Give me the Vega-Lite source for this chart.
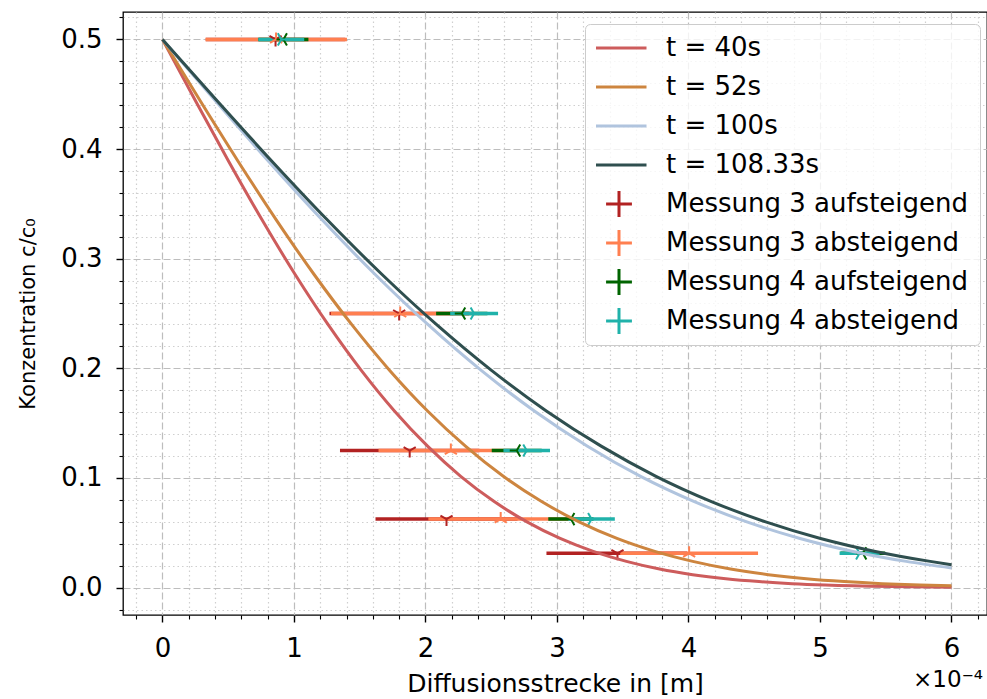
{
  "$schema": "https://vega.github.io/schema/vega-lite/v6.json",
  "width": 864,
  "height": 603,
  "autosize": {"type": "none"},
  "padding": {"left": 123, "top": 12, "right": 0, "bottom": 84},
  "background": "white",
  "config": {
    "font": "DejaVu Sans",
    "view": {"stroke": "black", "strokeWidth": 1.3},
    "axis": {"labelFont": "DejaVu Sans", "titleFont": "DejaVu Sans", "labelColor": "black", "titleColor": "black", "titleFontWeight": "normal", "tickColor": "black", "domain": false, "labelOverlap": false, "labelFlush": false, "tickCount": 200}
  },
  "title": {"text": "×10⁻⁴", "orient": "bottom", "anchor": "end", "fontSize": 23, "fontWeight": "normal", "font": "DejaVu Sans", "color": "black", "dy": -27, "dx": -4, "offset": 0},
  "datasets": {
    "curves": [
      {"s": "t = 40s", "x": 0, "y": 0.5}, {"s": "t = 40s", "x": 0.252, "y": 0.4438}, {"s": "t = 40s", "x": 0.504, "y": 0.3887}, {"s": "t = 40s", "x": 0.756, "y": 0.3357}, {"s": "t = 40s", "x": 1.008, "y": 0.2858}, {"s": "t = 40s", "x": 1.26, "y": 0.2398}, {"s": "t = 40s", "x": 1.512, "y": 0.1981}, {"s": "t = 40s", "x": 1.764, "y": 0.1611}, {"s": "t = 40s", "x": 2.016, "y": 0.129}, {"s": "t = 40s", "x": 2.268, "y": 0.1015}, {"s": "t = 40s", "x": 2.52, "y": 0.0787}, {"s": "t = 40s", "x": 2.772, "y": 0.0599}, {"s": "t = 40s", "x": 3.024, "y": 0.0448}, {"s": "t = 40s", "x": 3.276, "y": 0.033}, {"s": "t = 40s", "x": 3.528, "y": 0.0239}, {"s": "t = 40s", "x": 3.78, "y": 0.0169}, {"s": "t = 40s", "x": 4.032, "y": 0.0118}, {"s": "t = 40s", "x": 4.284, "y": 0.0081}, {"s": "t = 40s", "x": 4.536, "y": 0.0055}, {"s": "t = 40s", "x": 4.788, "y": 0.0036}, {"s": "t = 40s", "x": 5.04, "y": 0.0023}, {"s": "t = 40s", "x": 5.544, "y": 0.0009}, {"s": "t = 40s", "x": 6.0, "y": 0.0004},
      {"s": "t = 52s", "x": 0, "y": 0.5}, {"s": "t = 52s", "x": 0.288, "y": 0.4438}, {"s": "t = 52s", "x": 0.576, "y": 0.3887}, {"s": "t = 52s", "x": 0.864, "y": 0.3357}, {"s": "t = 52s", "x": 1.152, "y": 0.2858}, {"s": "t = 52s", "x": 1.44, "y": 0.2398}, {"s": "t = 52s", "x": 1.728, "y": 0.1981}, {"s": "t = 52s", "x": 2.016, "y": 0.1611}, {"s": "t = 52s", "x": 2.304, "y": 0.129}, {"s": "t = 52s", "x": 2.592, "y": 0.1015}, {"s": "t = 52s", "x": 2.88, "y": 0.0787}, {"s": "t = 52s", "x": 3.168, "y": 0.0599}, {"s": "t = 52s", "x": 3.456, "y": 0.0448}, {"s": "t = 52s", "x": 3.744, "y": 0.033}, {"s": "t = 52s", "x": 4.032, "y": 0.0239}, {"s": "t = 52s", "x": 4.32, "y": 0.0169}, {"s": "t = 52s", "x": 4.608, "y": 0.0118}, {"s": "t = 52s", "x": 4.896, "y": 0.0081}, {"s": "t = 52s", "x": 5.184, "y": 0.0055}, {"s": "t = 52s", "x": 5.472, "y": 0.0036}, {"s": "t = 52s", "x": 5.76, "y": 0.0023}, {"s": "t = 52s", "x": 6.0, "y": 0.0017},
      {"s": "t = 100s", "x": 0, "y": 0.5}, {"s": "t = 100s", "x": 0.404, "y": 0.4438}, {"s": "t = 100s", "x": 0.808, "y": 0.3887}, {"s": "t = 100s", "x": 1.212, "y": 0.3357}, {"s": "t = 100s", "x": 1.616, "y": 0.2858}, {"s": "t = 100s", "x": 2.02, "y": 0.2398}, {"s": "t = 100s", "x": 2.424, "y": 0.1981}, {"s": "t = 100s", "x": 2.828, "y": 0.1611}, {"s": "t = 100s", "x": 3.232, "y": 0.129}, {"s": "t = 100s", "x": 3.636, "y": 0.1015}, {"s": "t = 100s", "x": 4.04, "y": 0.0787}, {"s": "t = 100s", "x": 4.444, "y": 0.0599}, {"s": "t = 100s", "x": 4.848, "y": 0.0448}, {"s": "t = 100s", "x": 5.252, "y": 0.033}, {"s": "t = 100s", "x": 5.656, "y": 0.0239}, {"s": "t = 100s", "x": 6.0, "y": 0.0179},
      {"s": "t = 108.33s", "x": 0, "y": 0.5}, {"s": "t = 108.33s", "x": 0.417, "y": 0.4438}, {"s": "t = 108.33s", "x": 0.834, "y": 0.3887}, {"s": "t = 108.33s", "x": 1.251, "y": 0.3357}, {"s": "t = 108.33s", "x": 1.668, "y": 0.2858}, {"s": "t = 108.33s", "x": 2.085, "y": 0.2398}, {"s": "t = 108.33s", "x": 2.502, "y": 0.1981}, {"s": "t = 108.33s", "x": 2.919, "y": 0.1611}, {"s": "t = 108.33s", "x": 3.336, "y": 0.129}, {"s": "t = 108.33s", "x": 3.753, "y": 0.1015}, {"s": "t = 108.33s", "x": 4.17, "y": 0.0787}, {"s": "t = 108.33s", "x": 4.587, "y": 0.0599}, {"s": "t = 108.33s", "x": 5.004, "y": 0.0448}, {"s": "t = 108.33s", "x": 5.421, "y": 0.033}, {"s": "t = 108.33s", "x": 5.838, "y": 0.0239}, {"s": "t = 108.33s", "x": 6.0, "y": 0.0209}
    ],
    "meas": [
      {"s": "Messung 3 aufsteigend", "y": 0.5, "x": 0.86, "lo": 0.33, "hi": 1.39},
      {"s": "Messung 3 aufsteigend", "y": 0.25, "x": 1.8, "lo": 1.27, "hi": 2.33},
      {"s": "Messung 3 aufsteigend", "y": 0.125, "x": 1.88, "lo": 1.35, "hi": 2.41},
      {"s": "Messung 3 aufsteigend", "y": 0.0625, "x": 2.16, "lo": 1.62, "hi": 2.7},
      {"s": "Messung 3 aufsteigend", "y": 0.03125, "x": 3.46, "lo": 2.92, "hi": 3.99},
      {"s": "Messung 3 absteigend", "y": 0.5, "x": 0.864, "lo": 0.327, "hi": 1.403},
      {"s": "Messung 3 absteigend", "y": 0.25, "x": 1.808, "lo": 1.281, "hi": 2.335},
      {"s": "Messung 3 absteigend", "y": 0.125, "x": 2.193, "lo": 1.643, "hi": 2.743},
      {"s": "Messung 3 absteigend", "y": 0.0625, "x": 2.572, "lo": 2.022, "hi": 3.122},
      {"s": "Messung 3 absteigend", "y": 0.03125, "x": 4.005, "lo": 3.481, "hi": 4.529},
      {"s": "Messung 4 aufsteigend", "y": 0.5, "x": 0.92, "lo": 0.73, "hi": 1.11},
      {"s": "Messung 4 aufsteigend", "y": 0.25, "x": 2.276, "lo": 2.081, "hi": 2.471},
      {"s": "Messung 4 aufsteigend", "y": 0.125, "x": 2.694, "lo": 2.504, "hi": 2.884},
      {"s": "Messung 4 aufsteigend", "y": 0.0625, "x": 3.106, "lo": 2.934, "hi": 3.278},
      {"s": "Messung 4 aufsteigend", "y": 0.03125, "x": 5.326, "lo": 5.156, "hi": 5.496},
      {"s": "Messung 4 absteigend", "y": 0.5, "x": 0.904, "lo": 0.729, "hi": 1.078},
      {"s": "Messung 4 absteigend", "y": 0.25, "x": 2.37, "lo": 2.188, "hi": 2.552},
      {"s": "Messung 4 absteigend", "y": 0.125, "x": 2.77, "lo": 2.593, "hi": 2.947},
      {"s": "Messung 4 absteigend", "y": 0.0625, "x": 3.263, "lo": 3.086, "hi": 3.44},
      {"s": "Messung 4 absteigend", "y": 0.03125, "x": 5.301, "lo": 5.149, "hi": 5.453}
    ]
  },
  "layer": [
    {
      "data": {"name": "meas"},
      "mark": {"type": "rule", "strokeWidth": 3.5},
      "encoding": {
        "x": {
          "field": "lo", "type": "quantitative",
          "scale": {"domain": [-0.3, 6.27], "nice": false, "zero": false},
          "axis": {
            "title": "Diffusionsstrecke in [m]", "titleFontSize": 25, "titlePadding": 10,
            "values": [-0.2, 0, 0.2, 0.4, 0.6, 0.8, 1, 1.2, 1.4, 1.6, 1.8, 2, 2.2, 2.4, 2.6, 2.8, 3, 3.2, 3.4, 3.6, 3.8, 4, 4.2, 4.4, 4.6, 4.8, 5, 5.2, 5.4, 5.6, 5.8, 6, 6.2],
            "tickCount": 200,
            "labelExpr": "indexof([0,1,2,3,4,5,6], datum.value) >= 0 ? format(datum.value, 'd') : ''",
            "labelFontSize": 26, "labelPadding": 13, "labelOverlap": false,
            "grid": true,
            "gridDash": {"condition": {"test": "indexof([0,1,2,3,4,5,6], datum.value) >= 0", "value": [7, 3]}, "value": [1.5, 3]},
            "gridColor": {"condition": {"test": "indexof([0,1,2,3,4,5,6], datum.value) >= 0", "value": "#bdbdbd"}, "value": "#cfcfcf"},
            "gridWidth": 1.2,
            "tickSize": {"condition": {"test": "indexof([0,1,2,3,4,5,6], datum.value) >= 0", "value": 7}, "value": 4},
            "tickWidth": {"condition": {"test": "indexof([0,1,2,3,4,5,6], datum.value) >= 0", "value": 1.4}, "value": 1.1}
          }
        },
        "x2": {"field": "hi"},
        "y": {
          "field": "y", "type": "quantitative",
          "scale": {"domain": [-0.025, 0.525], "nice": false, "zero": false},
          "axis": {
            "title": "Konzentration c/c₀", "titleFontSize": 21, "titlePadding": 22,
            "values": [-0.02, 0, 0.02, 0.04, 0.06, 0.08, 0.1, 0.12, 0.14, 0.16, 0.18, 0.2, 0.22, 0.24, 0.26, 0.28, 0.3, 0.32, 0.34, 0.36, 0.38, 0.4, 0.42, 0.44, 0.46, 0.48, 0.5, 0.52],
            "tickCount": 200,
            "labelExpr": "indexof([0,0.1,0.2,0.3,0.4,0.5], datum.value) >= 0 ? format(datum.value, '.1f') : ''",
            "labelFontSize": 26, "labelPadding": 14, "labelOverlap": false,
            "grid": true,
            "gridDash": {"condition": {"test": "indexof([0,0.1,0.2,0.3,0.4,0.5], datum.value) >= 0", "value": [7, 3]}, "value": [1.5, 3]},
            "gridColor": {"condition": {"test": "indexof([0,0.1,0.2,0.3,0.4,0.5], datum.value) >= 0", "value": "#bdbdbd"}, "value": "#cfcfcf"},
            "gridWidth": 1.2,
            "tickSize": {"condition": {"test": "indexof([0,0.1,0.2,0.3,0.4,0.5], datum.value) >= 0", "value": 7}, "value": 4},
            "tickWidth": {"condition": {"test": "indexof([0,0.1,0.2,0.3,0.4,0.5], datum.value) >= 0", "value": 1.4}, "value": 1.1}
          }
        },
        "color": {
          "field": "s", "type": "nominal",
          "scale": {
            "domain": ["t = 40s", "t = 52s", "t = 100s", "t = 108.33s", "Messung 3 aufsteigend", "Messung 3 absteigend", "Messung 4 aufsteigend", "Messung 4 absteigend"],
            "range": ["#cd5c5c", "#cd853f", "#b0c4de", "#2f4f4f", "#b22222", "#ff7f50", "#006400", "#20b2aa"]
          },
          "legend": {
            "orient": "none", "legendX": 462, "legendY": 12, "title": null, "direction": "vertical",
            "fillColor": "rgba(255,255,255,0.8)", "strokeColor": "#cccccc", "cornerRadius": 5, "padding": 11,
            "labelFont": "DejaVu Sans", "labelFontSize": 26, "labelColor": "black", "labelLimit": 500,
            "symbolSize": 3025, "clipHeight": 26, "rowPadding": 13, "labelOffset": 18, "symbolOffset": -6, "symbolStrokeWidth": 3,
            "encode": {
              "symbols": {
                "update": {
                  "shape": {"signal": "indexof(datum.label, 'Messung') === 0 ? 'M-0.47,0L0.47,0M0,-0.47L0,0.47' : 'stroke'"},
                  "stroke": {"signal": "scale('color', datum.value)"},
                  "fill": {"value": "transparent"},
                  "strokeWidth": {"value": 3},
                  "opacity": {"value": 1}
                }
              }
            }
          }
        }
      }
    },
    {
      "data": {"name": "meas"},
      "transform": [{"filter": "datum.s === 'Messung 3 aufsteigend'"}],
      "mark": {"type": "point", "filled": false, "strokeWidth": 2, "size": 196, "opacity": 1, "shape": "M0,0L0,1M0,0L-0.866,-0.5M0,0L0.866,-0.5"},
      "encoding": {"x": {"field": "x", "type": "quantitative"}, "y": {"field": "y", "type": "quantitative"}, "color": {"field": "s", "type": "nominal"}}
    },
    {
      "data": {"name": "meas"},
      "transform": [{"filter": "datum.s === 'Messung 3 absteigend'"}],
      "mark": {"type": "point", "filled": false, "strokeWidth": 2, "size": 196, "opacity": 1, "shape": "M0,0L0,-1M0,0L-0.866,0.5M0,0L0.866,0.5"},
      "encoding": {"x": {"field": "x", "type": "quantitative"}, "y": {"field": "y", "type": "quantitative"}, "color": {"field": "s", "type": "nominal"}}
    },
    {
      "data": {"name": "meas"},
      "transform": [{"filter": "datum.s === 'Messung 4 aufsteigend'"}],
      "mark": {"type": "point", "filled": false, "strokeWidth": 2, "size": 196, "opacity": 1, "shape": "M0,0L-1,0M0,0L0.5,-0.866M0,0L0.5,0.866"},
      "encoding": {"x": {"field": "x", "type": "quantitative"}, "y": {"field": "y", "type": "quantitative"}, "color": {"field": "s", "type": "nominal"}}
    },
    {
      "data": {"name": "meas"},
      "transform": [{"filter": "datum.s === 'Messung 4 absteigend'"}],
      "mark": {"type": "point", "filled": false, "strokeWidth": 2, "size": 196, "opacity": 1, "shape": "M0,0L1,0M0,0L-0.5,-0.866M0,0L-0.5,0.866"},
      "encoding": {"x": {"field": "x", "type": "quantitative"}, "y": {"field": "y", "type": "quantitative"}, "color": {"field": "s", "type": "nominal"}}
    },
    {
      "data": {"name": "curves"},
      "mark": {"type": "line", "strokeWidth": 3, "interpolate": "monotone"},
      "encoding": {"x": {"field": "x", "type": "quantitative"}, "y": {"field": "y", "type": "quantitative"}, "color": {"field": "s", "type": "nominal"}}
    }
  ]
}
